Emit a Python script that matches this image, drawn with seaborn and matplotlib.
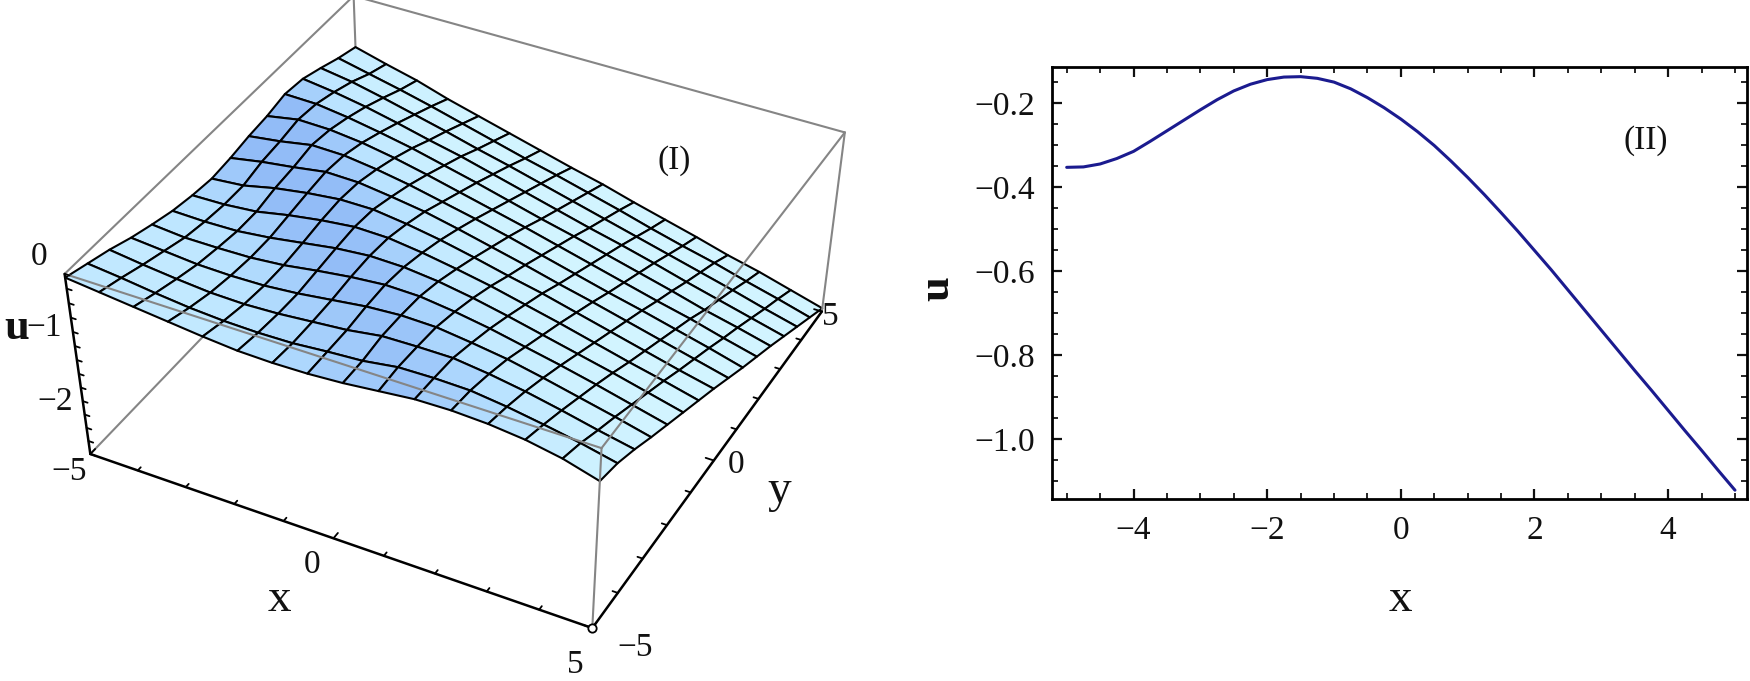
import numpy as np
import matplotlib
matplotlib.use("Agg")
import matplotlib.pyplot as plt
import seaborn as sns

# right panel, curve
line_x = [-5, -4.75, -4.5, -4.25, -4, -3.75, -3.5, -3.25, -3, -2.75, -2.5, -2.25, -2, -1.75, -1.5, -1.25, -1,
          -0.75, -0.5, -0.25, 0, 0.25, 0.5, 0.75, 1, 1.25, 1.5, 1.75, 2, 2.25, 2.5, 2.75, 3, 3.25, 3.5, 3.75,
          4, 4.25, 4.5, 4.75, 5]
line_u = [-0.353, -0.352, -0.345, -0.332, -0.315, -0.291, -0.266, -0.241, -0.216, -0.192, -0.171, -0.155,
          -0.144, -0.138, -0.137, -0.141, -0.150, -0.166, -0.187, -0.211, -0.238, -0.268, -0.301, -0.338,
          -0.377, -0.418, -0.461, -0.505, -0.551, -0.597, -0.645, -0.693, -0.741, -0.789, -0.837, -0.884,
          -0.932, -0.980, -1.027, -1.075, -1.122]

# left panel, surface heights estimated on the mesh, one row per y line
mesh_x = [-5 + i * 2 / 3 for i in range(16)]
mesh_y = [-5 + j * 2 / 3 for j in range(16)]
surface_u = [
    [-.05, -.10, -.15, -.20, -.25, -.29, -.30, -.29, -.26, -.21, -.16, -.15, -.17, -.22, -.31, -.45],
    [-.14, -.19, -.25, -.30, -.33, -.34, -.33, -.29, -.26, -.19, -.18, -.19, -.25, -.33, -.42, -.53],
    [-.23, -.29, -.34, -.38, -.39, -.37, -.33, -.29, -.22, -.21, -.21, -.27, -.35, -.45, -.56, -.66],
    [-.34, -.38, -.42, -.43, -.42, -.38, -.32, -.26, -.23, -.24, -.30, -.37, -.47, -.58, -.69, -.81],
    [-.43, -.47, -.47, -.46, -.42, -.35, -.29, -.25, -.26, -.32, -.40, -.50, -.60, -.71, -.83, -.95],
    [-.51, -.52, -.51, -.46, -.39, -.32, -.28, -.29, -.34, -.42, -.52, -.63, -.74, -.85, -.97, -1.09],
    [-.56, -.55, -.51, -.42, -.35, -.30, -.31, -.37, -.45, -.54, -.65, -.76, -.88, -1.00, -1.11, -1.23],
    [-.59, -.55, -.45, -.38, -.33, -.33, -.39, -.47, -.57, -.68, -.78, -.90, -1.02, -1.14, -1.26, -1.37],
    [-.56, -.48, -.42, -.35, -.36, -.42, -.49, -.59, -.70, -.81, -.93, -1.04, -1.16, -1.28, -1.40, -1.52],
    [-.51, -.45, -.37, -.38, -.44, -.52, -.62, -.72, -.83, -.95, -1.07, -1.19, -1.30, -1.42, -1.54, -1.67],
    [-.48, -.40, -.41, -.46, -.54, -.64, -.75, -.86, -.97, -1.09, -1.21, -1.33, -1.45, -1.56, -1.69, -1.81],
    [-.42, -.43, -.49, -.57, -.66, -.77, -.88, -1.00, -1.12, -1.23, -1.35, -1.47, -1.59, -1.72, -1.83, -1.95],
    [-.45, -.51, -.59, -.69, -.80, -.90, -1.02, -1.14, -1.26, -1.38, -1.49, -1.61, -1.74, -1.86, -1.98, -2.10],
    [-.54, -.61, -.71, -.82, -.93, -1.05, -1.16, -1.28, -1.40, -1.52, -1.64, -1.76, -1.88, -2.00, -2.13, -2.25],
    [-.64, -.74, -.84, -.95, -1.07, -1.19, -1.31, -1.42, -1.54, -1.66, -1.79, -1.91, -2.02, -2.15, -2.27, -2.40],
    [-.72, -.84, -.95, -1.09, -1.21, -1.33, -1.45, -1.57, -1.68, -1.81, -1.93, -2.05, -2.18, -2.29, -2.42, -2.55],
]

W, H = 1750, 681
U_MIN, U_MAX = -2.6, 0.0
XY = 5.0

sns.set_theme(style="white")
plt.rcParams['font.family'] = ['Liberation Serif', 'DejaVu Sans']
fig = plt.figure(figsize=(W / 100, H / 100), dpi=100)


def put(px, py, s, size=24, **kw):
    fig.text(px / W, 1 - py / H, s, fontsize=size, ha='center', va='center', color='#111111', **kw)


# ---- panel I, the reference is stretched sideways so the 3d axes is not kept square
ax = fig.add_axes([63 / W, 0.055, 785 / W, 1], projection='3d', computed_zorder=False)
ax.apply_aspect = lambda position=None: None
ax.set_axis_off()
ax.patch.set_alpha(0)
ax.set_proj_type('persp', focal_length=0.72)
ax.view_init(elev=43.5, azim=-62.5, roll=0)
ax.set_box_aspect((1, 1, 0.51), zoom=1.04)
ax.set_xlim(-XY, XY)
ax.set_ylim(-XY, XY)
ax.set_zlim(U_MIN, U_MAX)

X, Y = np.meshgrid(mesh_x, mesh_y)
Z = np.array(surface_u)
slope = np.gradient(Z, axis=0) + np.gradient(Z, axis=1)
shade = np.clip((slope + 0.26) / 0.36, 0, 1)
cmap = sns.blend_palette(['#D2F4FF', '#B8E2FF', '#92BCF7'], as_cmap=True)
ax.plot_surface(X, Y, Z, facecolors=cmap(shade), edgecolor='black', linewidth=1.5,
                rstride=1, cstride=1, shade=False, zorder=2)


def edge(a, b, color='#858585', lw=1.5, z=1):
    ax.plot([a[0], b[0]], [a[1], b[1]], [a[2], b[2]], color=color, lw=lw, zorder=z)


lo, hi = -XY, XY
# gray box, the far edges stay under the surface
edge((lo, hi, U_MIN), (lo, lo, U_MIN), z=1)
edge((lo, hi, U_MIN), (hi, hi, U_MIN), z=1)
edge((lo, hi, U_MIN), (lo, hi, U_MAX), z=1)
edge((lo, lo, U_MAX), (lo, hi, U_MAX), z=1)
edge((lo, hi, U_MAX), (hi, hi, U_MAX), z=1)
edge((lo, lo, U_MAX), (hi, lo, U_MAX), z=3)
edge((hi, lo, U_MAX), (hi, hi, U_MAX), z=3)
edge((hi, lo, U_MAX), (hi, lo, U_MIN), z=3)
edge((hi, hi, U_MAX), (hi, hi, U_MIN), z=3)
# black axes with ticks
edge((lo, lo, U_MIN), (hi, lo, U_MIN), 'black', 1.8, 4)
edge((hi, lo, U_MIN), (hi, hi, U_MIN), 'black', 1.8, 4)
edge((lo, lo, U_MAX), (lo, lo, U_MIN), 'black', 1.8, 4)
for t in np.arange(-5, 5.5, 1):
    size = 0.16 if t in (-5, 0, 5) else 0.1
    edge((t, lo, U_MIN), (t, lo + size, U_MIN), 'black', 1.3, 4)
    edge((hi, t, U_MIN), (hi - size, t, U_MIN), 'black', 1.3, 4)
for t in np.arange(U_MIN, 0.01, 0.2):
    edge((lo, lo, t), (lo + 0.1, lo, t), 'black', 1.3, 4)
ax.plot([hi], [lo], [U_MIN], 'o', mfc='white', mec='black', ms=6, mew=1.3, zorder=5)

put(39, 257, '0')
put(17, 328, 'u', 32, fontweight='bold')
put(44, 328, '\u22121')
put(55, 402, '\u22122')
put(69, 472, '\u22125')
put(312, 565, '0')
put(279, 600, 'x', 34)
put(575, 665, '5')
put(635, 648, '\u22125')
put(736, 465, '0')
put(779, 491, 'y', 34)
put(830, 317, '5')
put(674, 161, '(I)')

# ---- panel II
ax2 = fig.add_axes([1052 / W, 1 - 499 / H, (1747 - 1052) / W, (499 - 67) / H])
sns.lineplot(x=line_x, y=line_u, ax=ax2, color='#1B1B8F', lw=2.2, errorbar=None)
ax2.set_xlim(-5.22, 5.18)
ax2.set_ylim(-1.143, -0.114)
ax2.set_xticks([-4, -2, 0, 2, 4])
ax2.set_yticks([-1.0, -0.8, -0.6, -0.4, -0.2])
ax2.set_yticklabels(['\u22121.0', '\u22120.8', '\u22120.6', '\u22120.4', '\u22120.2'])
ax2.set_xticklabels(['\u22124', '\u22122', '0', '2', '4'])
ax2.set_xticks(np.arange(-5, 5.01, 0.5), minor=True)
ax2.set_yticks(np.arange(-1.1, -0.14, 0.05), minor=True)
ax2.tick_params(which='major', direction='in', length=7, width=1.6, top=True, right=True,
                bottom=True, left=True, labelsize=24, pad=12, colors='#111111')
ax2.tick_params(which='minor', direction='in', length=4, width=1.4, top=True, right=True,
                bottom=True, left=True)
for s in ax2.spines.values():
    s.set_linewidth(2)
    s.set_color('black')
put(1646, 141, '(II)')
put(1400, 600, 'x', 34)
put(937, 289, 'u', 32, fontweight='bold', rotation=90)

fig.savefig('out.png', dpi=100, facecolor='white')
